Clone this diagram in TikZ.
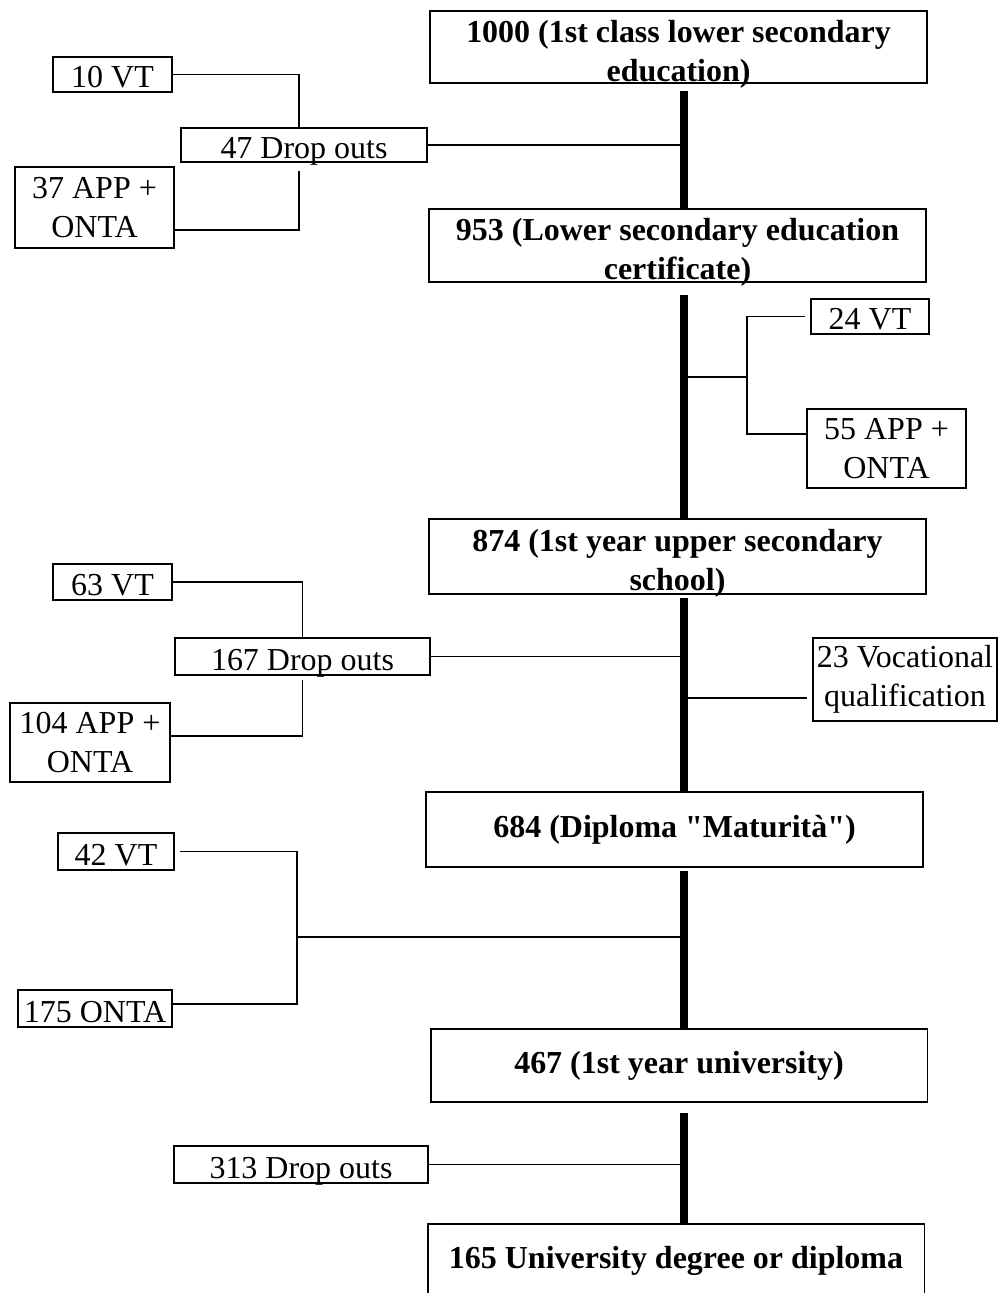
\documentclass[tikz,border=0pt]{standalone}
\usepackage{fontspec}
\newfontfamily\diagfont{Liberation Serif}

\tikzset{
  box/.style={draw, line width=1.1pt, inner sep=0.05cm, align=center, font=\diagfont\fontsize{18.2}{22}\selectfont},
  oneline/.style={text height=0.54cm, text depth=0pt},
  stage/.style={draw, line width=1.1pt, minimum width=9.94cm},
  stagetext/.style={align=center, font=\diagfont\fontsize{18.2}{22}\selectfont\bfseries},
  trunk/.style={line width=4pt},
  link/.style={line width=1.1pt}
}

\begin{document}
\begin{tikzpicture}[x=0.02cm,y=-0.02cm]
\useasboundingbox (0,0) rectangle (1000,1293);
\clip (0,0) rectangle (1000,1293);
\coordinate (spine) at (684,0);

% main stages
\node[stage, minimum height=1.44cm] (n1000) at (678.5,47) {};
\node[stagetext] (t1000) at ([yshift=-0.14cm]n1000.center) {1000 (1st class lower secondary\\education)};
\node[stage, minimum height=1.46cm] (n953) at (677.5,245.5) {};
\node[stagetext] (t953) at ([yshift=-0.14cm]n953.center) {953 (Lower secondary education\\certificate)};
\node[stage, minimum height=1.5cm] (n874) at (677.5,556.5) {};
\node[stagetext] (t874) at ([yshift=-0.14cm]n874.center) {874 (1st year upper secondary\\school)};
\node[stage, minimum height=1.5cm] (n684) at (674.5,829.5) {};
\node[stagetext] (t684) at (n684.center) {684 (Diploma "Maturità")};
\node[stage, minimum height=1.46cm] (n467) at (679,1065.5) {};
\node[stagetext] (t467) at (n467.center) {467 (1st year university)};
\node[stage, minimum height=1.48cm] (n165) at (676,1261) {};
\node[stagetext] (t165) at (n165.center) {165 University degree or diploma};

% side boxes
\node[box, oneline, minimum width=2.38cm, minimum height=0.7cm] (vt10) at (112.5,74.5) {10 VT};
\node[box, oneline, minimum width=4.92cm, minimum height=0.68cm] (d47) at (304,145) {47 Drop outs};
\node[box, minimum width=3.18cm, minimum height=1.62cm] (app37) at (94.5,207.5) {37 APP +\\ONTA};
\node[box, oneline, minimum width=2.36cm, minimum height=0.7cm] (vt24) at (870,316.5) {24 VT};
\node[box, minimum width=3.18cm, minimum height=1.58cm] (app55) at (886.5,448.5) {55 APP +\\ONTA};
\node[box, oneline, minimum width=2.38cm, minimum height=0.72cm] (vt63) at (112.5,582) {63 VT};
\node[box, oneline, minimum width=5.1cm, minimum height=0.74cm] (d167) at (302.5,656.5) {167 Drop outs};
\node[box, minimum width=3.2cm, minimum height=1.58cm] (app104) at (90,742.5) {104 APP +\\ONTA};
\node[box, minimum width=3.68cm, minimum height=1.66cm] (voc23) at (905,679.5) {23 Vocational\\qualification};
\node[box, oneline, minimum width=2.32cm, minimum height=0.74cm] (vt42) at (116,851.5) {42 VT};
\node[box, oneline, minimum width=3.08cm, minimum height=0.74cm] (onta175) at (95,1008.5) {175 ONTA};
\node[box, oneline, minimum width=5.08cm, minimum height=0.74cm] (d313) at (301,1164.5) {313 Drop outs};

% trunk
\draw[trunk] ([yshift=-0.14cm]n1000.south -| spine) -- (n953.north -| spine);
\draw[trunk] ([yshift=-0.24cm]n953.south -| spine) -- (n874.north -| spine);
\draw[trunk] ([yshift=-0.06cm]n874.south -| spine) -- (n684.north -| spine);
\draw[trunk] ([yshift=-0.06cm]n684.south -| spine) -- (n467.north -| spine);
\draw[trunk] ([yshift=-0.2cm]n467.south -| spine) -- (n165.north -| spine);

% branches
\draw[link] (d47.east) -- (d47.east -| spine);
\draw[link] (vt10.east) -| ([xshift=-0.1cm]d47.north);
\draw[link] ([xshift=-0.1cm,yshift=-0.16cm]d47.south) |- ([yshift=0.38cm]app37.south east);

\coordinate (fork2) at (747,377);
\draw[link] (fork2 -| spine) -- (fork2);
\draw[link] ([xshift=-0.1cm]vt24.west) -| (fork2);
\draw[link] ([yshift=0.29cm]app55.west) -| (fork2);

\draw[link] (d167.east) -- (d167.east -| spine);
\draw[link] (vt63.east) -| (d167.north);
\draw[link] ([yshift=-0.08cm]d167.south) |- ([yshift=0.13cm]app104.east);
\draw[link] ([xshift=-0.1cm,yshift=-0.37cm]voc23.west) -- ([yshift=-0.37cm]voc23.west -| spine);

\coordinate (fork4) at (297,937);
\draw[link] (fork4) -- (fork4 -| spine);
\draw[link] ([xshift=0.1cm]vt42.east) -| (fork4);
\draw[link] ([yshift=0.09cm]onta175.east) -| (fork4);

\draw[link] (d313.east) -- (d313.east -| spine);
\end{tikzpicture}
\end{document}
